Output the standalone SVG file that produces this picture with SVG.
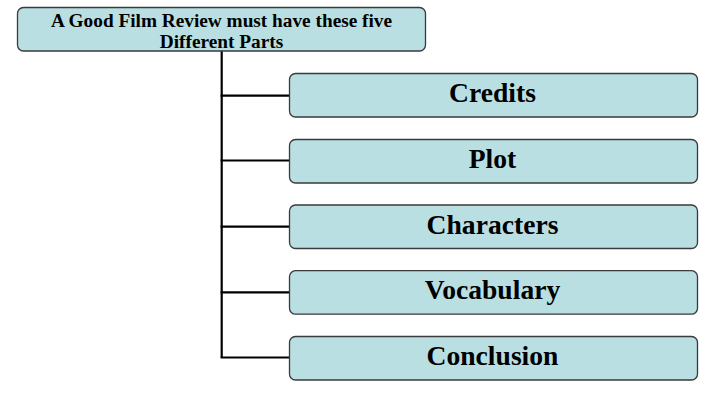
<svg xmlns="http://www.w3.org/2000/svg" width="728" height="401" viewBox="0 0 728 401">
<style>
.box{fill:#b9dfe3;stroke:#3a3a3a;stroke-width:1.3}
.t{font-family:"Liberation Serif","Times New Roman",serif;font-weight:bold;fill:#000;text-anchor:middle}
.big{font-size:27.6px}
.small{font-size:19.3px}
.c{stroke:#000;stroke-width:2.2;fill:none}
</style>
<rect width="728" height="401" fill="#fff"/>
<g id="connectors">
<path class="c" d="M221.7 51 V357.5"/>
<path class="c" d="M220.6 95.7 H289.5"/>
<path class="c" d="M220.6 160.5 H289.5"/>
<path class="c" d="M220.6 226.7 H289.5"/>
<path class="c" d="M220.6 292.3 H289.5"/>
<path class="c" d="M220.6 357.5 H289.5"/>
</g>
<g id="root">
<rect class="box" x="17.5" y="7.5" width="408" height="43.5" rx="6"/>
<text class="t small" x="221.5" y="27">A Good Film Review must have these five</text>
<text class="t small" x="221.5" y="47.5">Different Parts</text>
</g>
<g id="credits">
<rect class="box" x="289.5" y="73.5" width="408" height="43.5" rx="6"/>
<text class="t big" x="492.5" y="102">Credits</text>
</g>
<g id="plot">
<rect class="box" x="289.5" y="139.5" width="408" height="43.5" rx="6"/>
<text class="t big" x="492.5" y="168">Plot</text>
</g>
<g id="characters">
<rect class="box" x="289.5" y="205" width="408" height="43.5" rx="6"/>
<text class="t big" x="492.5" y="233.5">Characters</text>
</g>
<g id="vocabulary">
<rect class="box" x="289.5" y="270.7" width="408" height="43.5" rx="6"/>
<text class="t big" x="492.5" y="299.2">Vocabulary</text>
</g>
<g id="conclusion">
<rect class="box" x="289.5" y="336.5" width="408" height="43.5" rx="6"/>
<text class="t big" x="492.5" y="365">Conclusion</text>
</g>
</svg>
